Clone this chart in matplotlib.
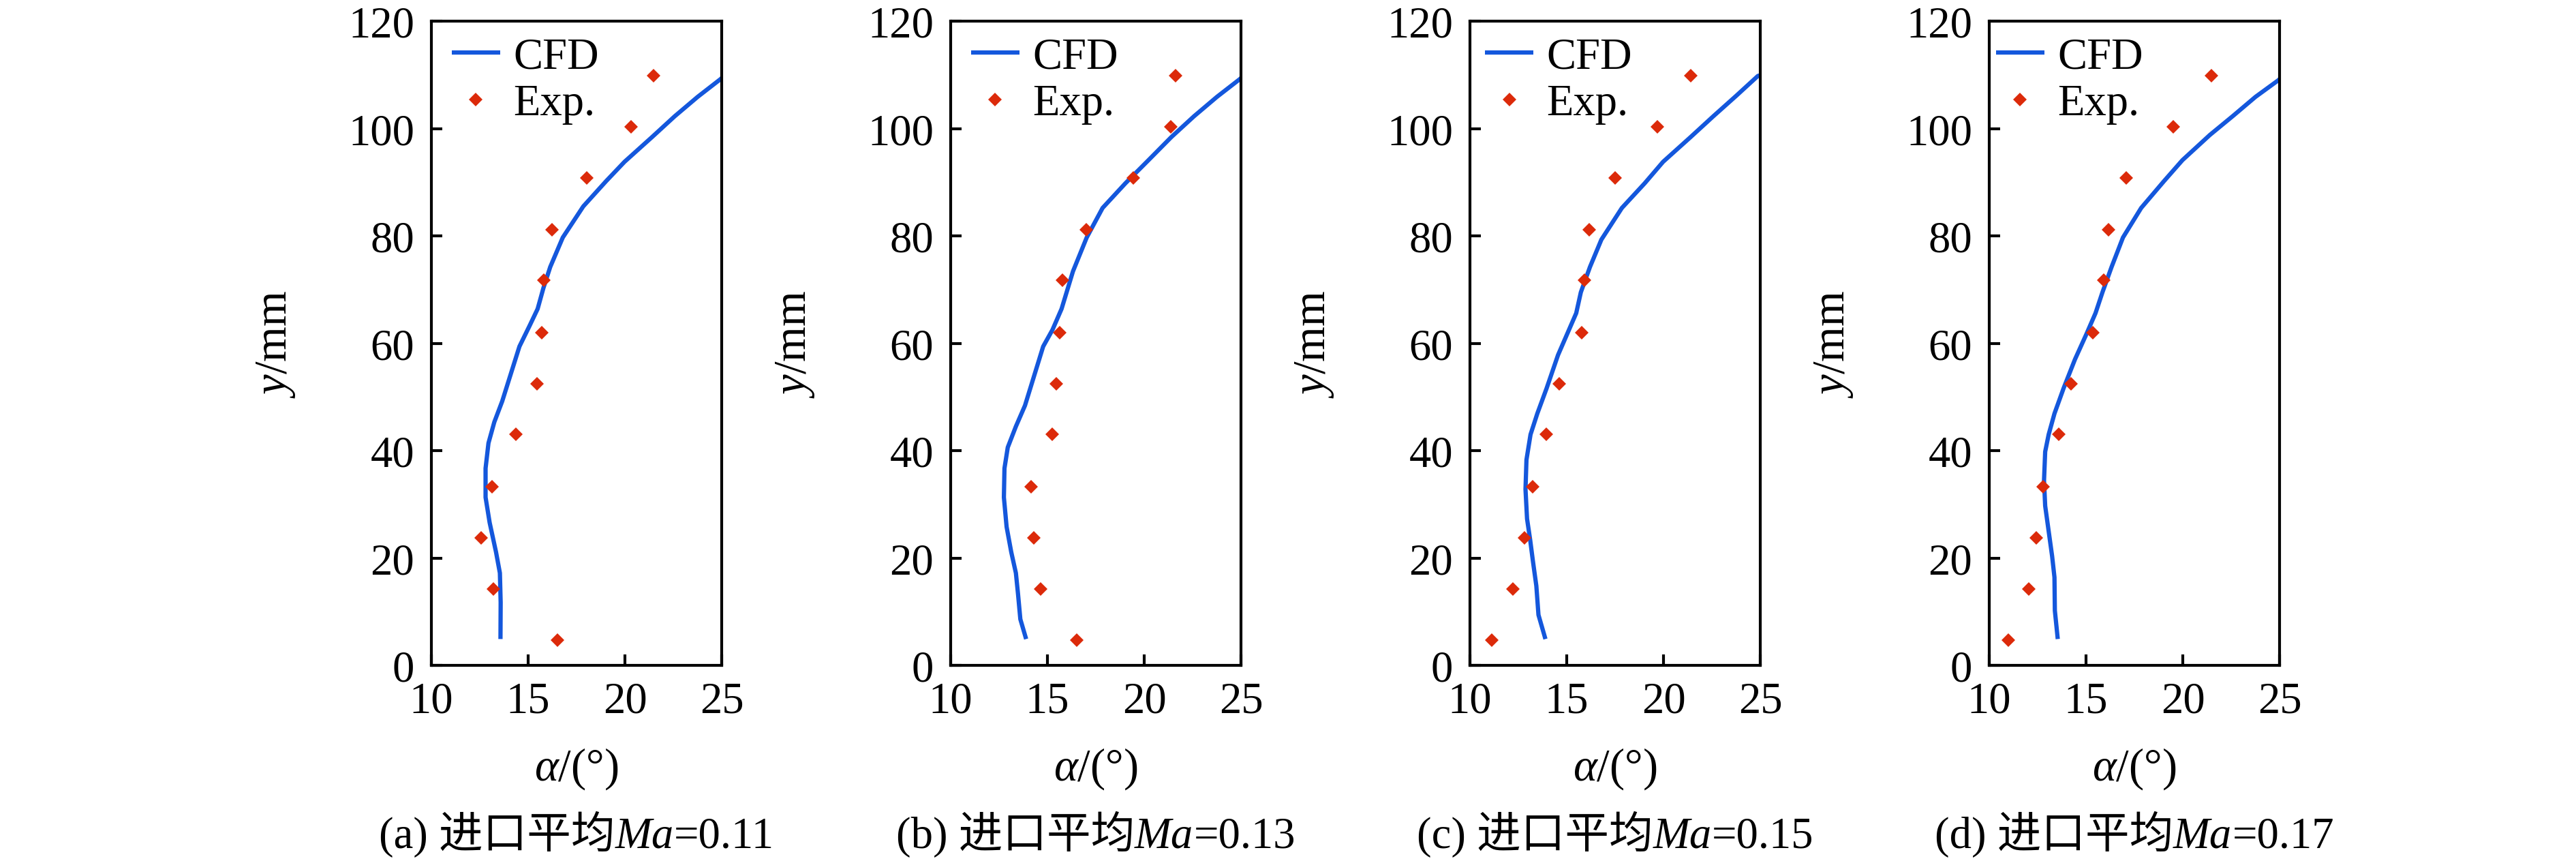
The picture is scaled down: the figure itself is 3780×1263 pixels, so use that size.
import matplotlib
matplotlib.use("Agg")
import matplotlib.pyplot as plt

plt.rcParams['font.family'] = ['Liberation Serif', 'Noto Sans CJK SC']
plt.rcParams['mathtext.fontset'] = 'custom'
plt.rcParams['mathtext.rm'] = 'Liberation Serif'
plt.rcParams['mathtext.it'] = 'Liberation Serif:italic'
plt.rcParams['mathtext.bf'] = 'Liberation Serif:bold'

# ---------------- data ----------------
exp_y = [4.7, 14.2, 23.7, 33.3, 43.0, 52.5, 62.0, 71.7, 81.2, 90.8, 100.3, 109.9]

exp_a = [16.50, 13.22, 12.56, 13.15, 14.35, 15.46, 15.70, 15.80, 16.24, 18.03, 20.31, 21.49]
exp_b = [16.50, 14.64, 14.29, 14.16, 15.23, 15.47, 15.65, 15.76, 17.00, 19.42, 21.37, 21.61]
exp_c = [11.12, 12.21, 12.83, 13.25, 13.96, 14.61, 15.76, 15.93, 16.15, 17.51, 19.67, 21.41]
exp_d = [10.98, 12.04, 12.42, 12.78, 13.58, 14.22, 15.34, 15.93, 16.15, 17.06, 19.52, 21.47]

cfd_a_x = [13.57, 13.58, 13.54, 13.34, 13.01, 12.80, 12.80, 12.95, 13.25, 13.66, 14.07, 14.55,
           15.08, 15.49, 15.79, 16.14, 16.79, 17.85, 19.03, 19.98, 21.40, 22.58, 23.76, 24.94, 25.0]
cfd_a_y = [4.9, 11.7, 17.2, 21.1, 26.6, 31.3, 36.7, 41.4, 45.3, 49.2, 53.9, 59.4,
           63.3, 66.4, 70.3, 74.2, 79.7, 85.5, 90.2, 93.8, 98.4, 102.3, 105.9, 109.2, 109.4]

cfd_b_x = [13.90, 13.60, 13.48, 13.37, 13.13, 12.89, 12.75, 12.78, 12.95, 13.37, 13.84, 14.31,
           14.78, 15.26, 15.73, 16.32, 17.03, 17.85, 19.03, 20.22, 21.40, 22.58, 23.76, 24.94, 25.0]
cfd_b_y = [4.9, 8.6, 13.3, 17.2, 21.1, 25.8, 31.3, 36.7, 40.6, 44.5, 48.4, 53.9,
           59.4, 62.5, 66.4, 73.4, 79.7, 85.2, 89.8, 94.1, 98.4, 102.3, 105.9, 109.2, 109.4]

cfd_c_x = [13.90, 13.54, 13.43, 13.25, 13.11, 12.95, 12.87, 12.92, 13.13, 13.48, 13.96, 14.55,
           15.02, 15.49, 15.73, 16.20, 16.79, 17.85, 19.03, 19.98, 21.40, 22.58, 23.76, 24.88, 25.0]
cfd_c_y = [4.9, 9.4, 14.8, 19.5, 23.4, 27.3, 32.8, 38.3, 43.0, 46.9, 51.6, 57.8,
           61.7, 65.6, 69.5, 74.2, 79.3, 85.2, 89.8, 93.8, 98.4, 102.3, 106.1, 109.8, 109.9]

cfd_d_x = [13.54, 13.39, 13.37, 13.25, 13.07, 12.89, 12.83, 12.89, 13.07, 13.37, 13.84, 14.43,
           15.02, 15.49, 15.85, 16.32, 16.91, 17.85, 19.03, 19.98, 21.40, 22.58, 23.76, 24.94, 25.0]
cfd_d_y = [4.9, 10.2, 16.4, 20.3, 25.0, 29.7, 34.4, 39.8, 43.0, 46.9, 51.6, 57.0,
           61.7, 65.6, 69.5, 74.2, 79.7, 85.2, 90.2, 94.1, 98.8, 102.3, 105.9, 109.0, 109.2]

caption_prefix = ["(a) 进口平均", "(b) 进口平均", "(c) 进口平均", "(d) 进口平均"]
caption_var = "Ma"
caption_value = ["=0.11", "=0.13", "=0.15", "=0.17"]
x_ticks = [10, 15, 20, 25]
y_ticks = [0, 20, 40, 60, 80, 100, 120]
legend_labels = ["CFD", "Exp."]
xlabel_text = "$\\alpha$/(°)"
ylabel_text = "$y$/mm"

panels = [
    (cfd_a_x, cfd_a_y, exp_a),
    (cfd_b_x, cfd_b_y, exp_b),
    (cfd_c_x, cfd_c_y, exp_c),
    (cfd_d_x, cfd_d_y, exp_d),
]

# ---------------- layout ----------------
W, H = 3780, 1264
fig = plt.figure(figsize=(W / 300, H / 300), dpi=300)
lefts = [633, 1395, 2157, 2919]
ax_w, ax_top, ax_bot = 426, 32, 977
legend_x0 = [0.070, 0.070, 0.052, 0.023]

line_color = '#1457dc'
marker_color = '#dc2a0a'
fs = 15.5

renderer = fig.canvas.get_renderer()

for i, (cx, cy, ex) in enumerate(panels):
    ax = fig.add_axes([lefts[i] / W, 1 - ax_bot / H, ax_w / W, (ax_bot - ax_top) / H])
    ax.plot(cx, cy, color=line_color, lw=1.5, label=legend_labels[0], solid_capstyle='butt')
    ax.plot(ex, exp_y, linestyle='none', marker='D', ms=3.4, mew=0,
            color=marker_color, label=legend_labels[1])
    ax.set_xlim(10, 25)
    ax.set_ylim(0, 120)
    ax.set_xticks(x_ticks)
    ax.set_yticks(y_ticks)
    ax.tick_params(direction='in', length=3.8, width=1.0, labelsize=fs, color='black')
    ax.tick_params(axis='x', pad=5.5)
    ax.tick_params(axis='y', pad=6)
    for sp in ax.spines.values():
        sp.set_linewidth(1.0)
    ax.set_xlabel(xlabel_text, fontsize=16)
    ax.xaxis.set_label_coords(0.5, -(1128 - ax_bot) / (ax_bot - ax_top))
    ax.xaxis.label.set_va('center')
    ax.set_ylabel(ylabel_text, fontsize=16)
    ax.yaxis.set_label_coords(-228 / ax_w, 0.5)
    ax.yaxis.label.set_va('center')
    ax.legend(loc='upper left', bbox_to_anchor=(legend_x0[i], 0.976), frameon=False,
              fontsize=fs, borderpad=0, borderaxespad=0, handlelength=1.1,
              handletextpad=0.3, labelspacing=0.15)

    # caption assembled from pieces (CJK + italic Ma + value)
    parts = [(caption_prefix[i], 'normal'), (caption_var, 'italic'), (caption_value[i], 'normal')]
    texts = []
    for s, style in parts:
        t = fig.text(0, 0, s, fontsize=15.5, fontstyle=style, ha='left', va='baseline')
        texts.append(t)
    widths = [t.get_window_extent(renderer=renderer).width for t in texts]
    total = sum(widths)
    cx_px = lefts[i] + ax_w / 2
    x_px = cx_px - total / 2
    base_y = 1 - 1244 / H
    for t, w in zip(texts, widths):
        t.set_position((x_px / W, base_y))
        x_px += w

fig.savefig("out.png", dpi=300)
